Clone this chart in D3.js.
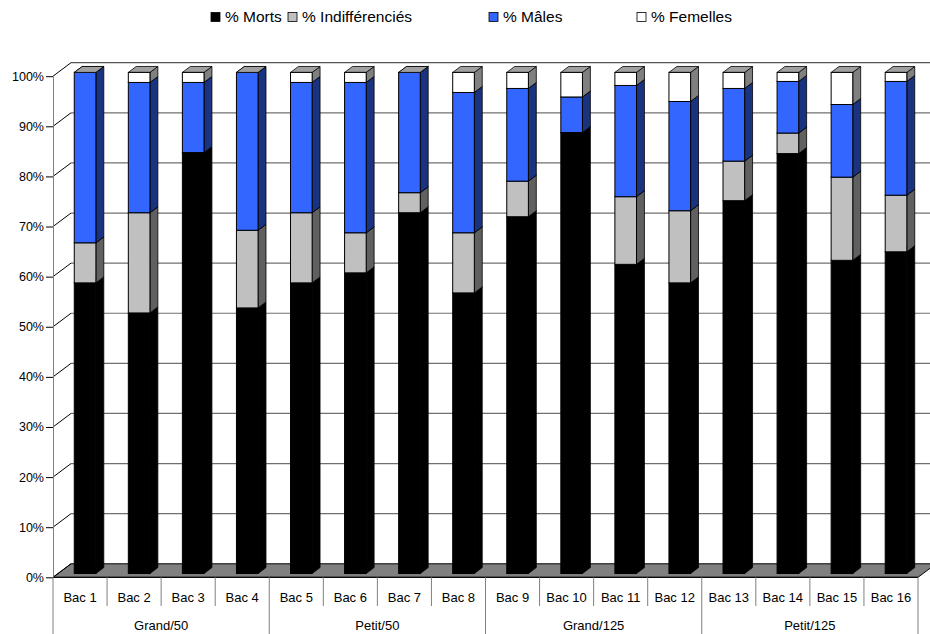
<!DOCTYPE html>
<html><head><meta charset="utf-8">
<script src="https://cdn.jsdelivr.net/npm/d3@7"></script>
<style>
html,body{margin:0;padding:0;background:#fff;}
text{font-family:"Liberation Sans",Arial,sans-serif;fill:#000;}
</style></head>
<body>
<svg id="chart" width="930" height="634"></svg>
<script>
const categories = ["Bac 1","Bac 2","Bac 3","Bac 4","Bac 5","Bac 6","Bac 7","Bac 8","Bac 9","Bac 10","Bac 11","Bac 12","Bac 13","Bac 14","Bac 15","Bac 16"];
const groups = ["Grand/50","Petit/50","Grand/125","Petit/125"];
const seriesNames = ["% Morts","% Indifférenciés","% Mâles","% Femelles"];
const morts   = [58,52,84,53,58,60,72,56,71.2,88,61.7,58,74.4,83.8,62.5,64.2];
const indiff  = [8,20,0,15.5,14,8,4,12,7.1,0,13.5,14.4,7.9,4.1,16.6,11.3];
const males   = [34,26,14,31.5,26,30,24,28,18.5,7.1,22.2,21.8,14.5,10.3,14.5,22.7];
const femelles= [0,2,2,0,2,2,0,4,3.2,4.9,2.6,5.8,3.2,1.8,6.4,1.8];
const yTicks = [0,10,20,30,40,50,60,70,80,90,100];

const frontCol = ["#000000","#c0c0c0","#3366ff","#ffffff"];
const sideCol  = ["#000000","#606060","#1a3380","#808080"];
const topCol   = ["#000000","#999999","#2850c8","#a0a0a0"];

const svg = d3.select("#chart");
const X0 = 53, X1 = 918, YB = 577.3, YT = 76.2, DX = 18, DY = -13.5;
const x = d3.scaleBand().domain(categories).range([X0, X1]);
const y = d3.scaleLinear().domain([0,100]).range([YB, YT]);

// floor
const floor = [[X0,YB],[X1,YB],[X1+DX,YB+DY],[X0+DX,YB+DY]];
svg.append("path").attr("d", "M"+floor.join("L")+"Z").attr("fill","#808080").attr("stroke","#000").attr("stroke-width",1);

// grid on back wall + left wall diagonals
const grid = svg.append("g");
yTicks.forEach(t => {
  const yy = y(t);
  if (t > 0) {
    grid.append("line").attr("x1", X0+DX).attr("x2", 930).attr("y1", yy+DY).attr("y2", yy+DY)
      .attr("stroke", t===100 ? "#555" : "#707070").attr("stroke-width", 1.2);
  }
  grid.append("line").attr("x1", X0).attr("y1", yy).attr("x2", X0+DX).attr("y2", yy+DY)
    .attr("stroke","#000").attr("stroke-width",1);
});

// y axis
const yAxis = d3.axisLeft(y).tickValues(yTicks).tickFormat(d => d+"%").tickSize(7).tickSizeOuter(0);
const ya = svg.append("g").attr("transform", `translate(${X0},0)`).call(yAxis);
ya.select(".domain").attr("stroke","#808080");
ya.selectAll(".tick line").attr("stroke","#000");
ya.selectAll(".tick text").attr("font-size","12.5px").attr("font-family","'Liberation Sans',Arial,sans-serif").attr("fill","#000").attr("x",-9);

// bars
const stack = d3.stack().keys([0,1,2,3]).value((d,k) => d[k]);
const rows = categories.map((c,i) => [morts[i], indiff[i], males[i], femelles[i]]);
const stacked = stack(rows);
const bw = x.bandwidth()*0.4;
const f1 = 0.28, f2 = 0.72;
const bars = svg.append("g");
categories.forEach((c,i) => {
  const cx = x(c) + x.bandwidth()/2;
  const xl = cx - bw/2 + DX*f1, xr = xl + bw;
  const sx = DX*(f2-f1), sy = DY*(f2-f1);
  const oy = DY*f1;
  for (let k=0;k<4;k++) {
    const s = stacked[k][i];
    const yb = y(s[0]) + oy, yt = y(s[1]) + oy;
    const g = bars.append("g");
    g.append("path").attr("d", `M${xr},${yb}L${xr+sx},${yb+sy}L${xr+sx},${yt+sy}L${xr},${yt}Z`)
      .attr("fill", sideCol[k]).attr("stroke","#000").attr("stroke-width",0.8).attr("stroke-linejoin","round");
    g.append("path").attr("d", `M${xl},${yt}L${xr},${yt}L${xr+sx},${yt+sy}L${xl+sx},${yt+sy}Z`)
      .attr("fill", topCol[k]).attr("stroke","#000").attr("stroke-width",0.8).attr("stroke-linejoin","round");
    g.append("rect").attr("x", xl).attr("y", yt).attr("width", bw).attr("height", Math.max(0, yb-yt))
      .attr("fill", frontCol[k]).attr("stroke","#000").attr("stroke-width",1);
  }
});

// category axis
const cat = svg.append("g");
cat.append("line").attr("x1",X0).attr("x2",X1).attr("y1",YB).attr("y2",YB).attr("stroke","#000");
const bounds = categories.map(c => x(c)).concat([X1]);
bounds.forEach((bx,i) => {
  const isGroup = i % 4 === 0;
  cat.append("line").attr("x1",bx).attr("x2",bx).attr("y1",YB).attr("y2", isGroup ? 634 : 606)
    .attr("stroke","#808080").attr("stroke-width",1);
});
categories.forEach(c => {
  cat.append("text").attr("x", x(c)+x.bandwidth()/2).attr("y", 597).attr("dy","0.35em")
    .attr("text-anchor","middle").attr("font-size","13px").text(c);
});
groups.forEach((gname,j) => {
  const a = x(categories[j*4]), b = (j*4+4 < categories.length) ? x(categories[j*4+4]) : X1;
  cat.append("text").attr("x",(a+b)/2).attr("y",625).attr("dy","0.35em")
    .attr("text-anchor","middle").attr("font-size","13px").text(gname);
});

// legend
const legX = [211, 288, 489, 637];
const leg = svg.append("g");
seriesNames.forEach((n,k) => {
  leg.append("rect").attr("x", legX[k]).attr("y", 12.5).attr("width", 9).attr("height", 9)
    .attr("fill", frontCol[k]).attr("stroke","#000").attr("stroke-width",0.8);
  leg.append("text").attr("x", legX[k]+14).attr("y", 17).attr("dy","0.35em")
    .attr("font-size","15.5px").text(n);
});
</script>
</body></html>
